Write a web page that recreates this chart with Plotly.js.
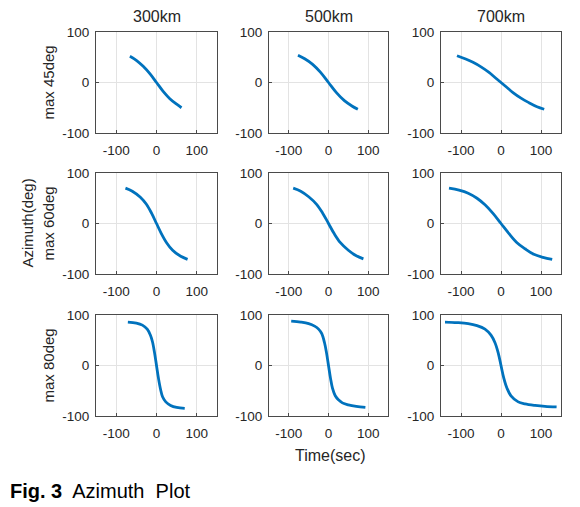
<!DOCTYPE html>
<html>
<head>
<meta charset="utf-8">
<script src="https://cdn.plot.ly/plotly-3.0.1.min.js"></script>
<style>html,body{margin:0;padding:0;background:#fff;}#chart{width:580px;height:507px;}</style>
</head>
<body>
<div id="chart"></div>
<script>
// ---- data ----
const columnTitles = ['300km', '500km', '700km'];
const rowTitles = ['max 45deg', 'max 60deg', 'max 80deg'];
const tickVals = [-100, 0, 100];
const tickText = ['-100', '0', '100'];

// max 45deg
const t_45_300 = [-66, -50, -33, -16, 0, 16, 33, 50, 62];
const az_45_300 = [52, 44, 32, 17, 0, -17, -32, -43, -50];
const t_45_500 = [-77, -60, -40, -20, 0, 20, 40, 60, 74];
const az_45_500 = [54, 47, 36, 20, 0, -20, -36, -47, -53];
const t_45_700 = [-110, -90, -70, -50, -30, -15, 0, 15, 30, 50, 70, 90, 108];
const az_45_700 = [53, 47, 40, 31, 20, 10, 0, -10, -20, -31, -40, -48, -53];

// max 60deg
const t_60_300 = [-77, -60, -40, -25, -12, 0, 12, 25, 40, 60, 77];
const az_60_300 = [70, 64, 52, 38, 20, 0, -20, -38, -53, -65, -71];
const t_60_500 = [-89, -70, -50, -30, -15, 0, 15, 30, 50, 70, 88];
const az_60_500 = [70, 64, 53, 38, 21, 0, -21, -38, -53, -64, -70];
const t_60_700 = [-130, -105, -82, -60, -40, -20, 0, 20, 40, 60, 82, 105, 128];
const az_60_700 = [70, 66, 60, 50, 37, 20, 0, -20, -38, -50, -61, -67, -71];

// max 80deg
const t_80_300 = [-71, -50, -35, -23, -15, -10, -5, 0, 5, 10, 15, 23, 35, 50, 70];
const az_80_300 = [86, 84, 80, 72, 60, 47, 26, 0, -26, -47, -62, -72, -79, -83, -85];
const t_80_500 = [-94, -70, -50, -35, -25, -17, -10, -5, 0, 5, 10, 17, 25, 35, 50, 70, 93];
const az_80_500 = [88, 86, 83, 78, 72, 63, 45, 25, 0, -25, -45, -60, -68, -74, -78, -81, -83];
const t_80_700 = [-140, -110, -82, -60, -40, -25, -15, -7, 0, 7, 15, 25, 43, 60, 85, 110, 139];
const az_80_700 = [86, 85, 83, 79, 72, 60, 45, 25, 0, -25, -45, -60, -72, -76, -79, -81, -82];

const series = [
  [[t_45_300, az_45_300], [t_45_500, az_45_500], [t_45_700, az_45_700]],
  [[t_60_300, az_60_300], [t_60_500, az_60_500], [t_60_700, az_60_700]],
  [[t_80_300, az_80_300], [t_80_500, az_80_500], [t_80_700, az_80_700]]
];

// ---- layout geometry ----
const W = 580, H = 507;
const colPx = [[96, 217], [269, 388], [441, 561]];
const rowPx = [[32, 133], [173, 274], [315, 416]];

const FONT = 'Liberation Sans, Arial, sans-serif';
const TXT = '#262626';

const traces = [];
const layout = {
  width: W, height: H,
  margin: {l: 0, r: 0, t: 0, b: 0},
  paper_bgcolor: '#fff', plot_bgcolor: '#fff',
  showlegend: false,
  font: {family: FONT, size: 13, color: TXT},
  annotations: []
};

let n = 0;
for (let r = 0; r < 3; r++) {
  for (let c = 0; c < 3; c++) {
    n++;
    const xa = n === 1 ? 'x' : 'x' + n;
    const ya = n === 1 ? 'y' : 'y' + n;
    traces.push({
      x: series[r][c][0], y: series[r][c][1],
      xaxis: xa, yaxis: ya,
      type: 'scatter', mode: 'lines',
      line: {color: '#0072BD', width: 2.8, shape: 'spline', smoothing: 1},
      hoverinfo: 'skip'
    });
    const common = {
      showgrid: true, gridcolor: '#e3e3e3', gridwidth: 1,
      zeroline: false, showline: true, mirror: true,
      linecolor: '#4a4a4a', linewidth: 1,
      ticks: 'inside', ticklen: 3, tickcolor: '#4a4a4a',
      tickmode: 'array', tickvals: tickVals, ticktext: tickText,
      tickfont: {family: FONT, size: 13.5, color: TXT},
      fixedrange: true
    };
    layout['xaxis' + (n === 1 ? '' : n)] = Object.assign({}, common, {
      domain: [colPx[c][0] / W, colPx[c][1] / W],
      range: [-150, 150], anchor: ya,
      ticklabelstandoff: 5
    });
    layout['yaxis' + (n === 1 ? '' : n)] = Object.assign({}, common, {
      domain: [1 - rowPx[r][1] / H, 1 - rowPx[r][0] / H],
      range: [-100, 100], anchor: xa,
      ticklabelstandoff: 3
    });
  }
}

// column titles
for (let c = 0; c < 3; c++) {
  layout.annotations.push({
    text: columnTitles[c], xref: 'paper', yref: 'paper',
    x: (colPx[c][0] + colPx[c][1]) / 2 / W, y: 1 - 17 / H,
    xanchor: 'center', yanchor: 'middle', showarrow: false,
    font: {family: FONT, size: 16, color: TXT}
  });
}
// row titles
for (let r = 0; r < 3; r++) {
  layout.annotations.push({
    text: rowTitles[r], xref: 'paper', yref: 'paper',
    x: 48 / W, y: 1 - (rowPx[r][0] + rowPx[r][1]) / 2 / H,
    xanchor: 'center', yanchor: 'middle', showarrow: false, textangle: -90,
    font: {family: FONT, size: 15, color: TXT}
  });
}
layout.annotations.push({
  text: 'Azimuth(deg)', xref: 'paper', yref: 'paper',
  x: 27 / W, y: 1 - (rowPx[1][0] + rowPx[1][1]) / 2 / H,
  xanchor: 'center', yanchor: 'middle', showarrow: false, textangle: -90,
  font: {family: FONT, size: 15, color: TXT}
});
layout.annotations.push({
  text: 'Time(sec)', xref: 'paper', yref: 'paper',
  x: 330 / W, y: 1 - 455 / H,
  xanchor: 'center', yanchor: 'middle', showarrow: false,
  font: {family: FONT, size: 16, color: TXT}
});
layout.annotations.push({
  text: '<b>Fig. 3</b>&nbsp; Azimuth&nbsp; Plot', xref: 'paper', yref: 'paper',
  x: 8 / W, y: 1 - 491 / H,
  xanchor: 'left', yanchor: 'middle', showarrow: false,
  font: {family: FONT, size: 20, color: '#000'}
});

Plotly.newPlot('chart', traces, layout, {staticPlot: true, displayModeBar: false});
</script>
</body>
</html>
